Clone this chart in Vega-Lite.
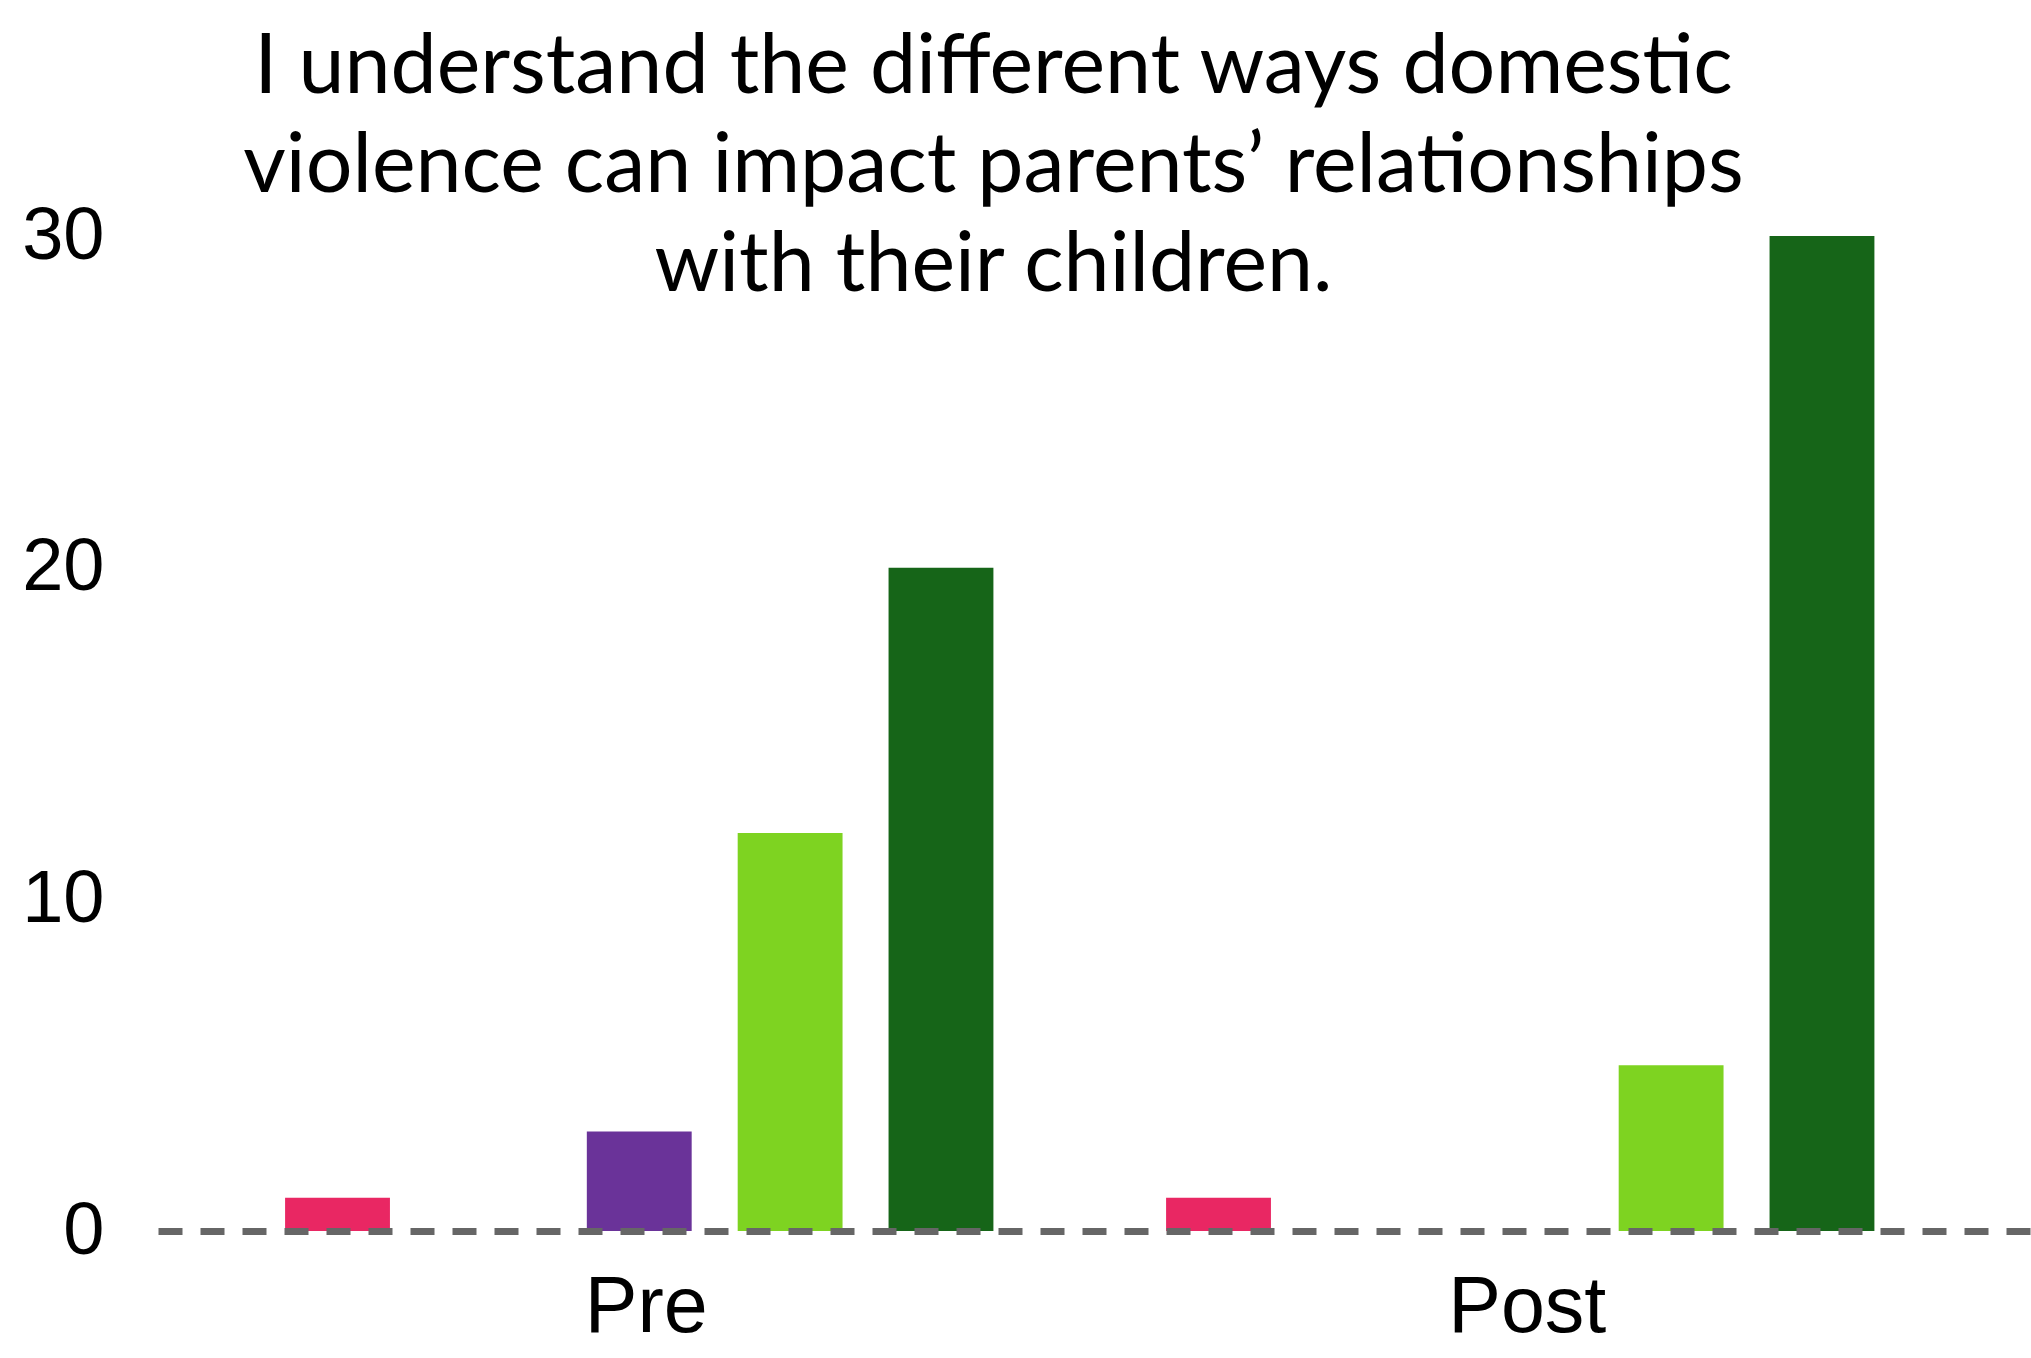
{
  "$schema": "https://vega.github.io/schema/vega-lite/v6.json",
  "width": 1873,
  "height": 995,
  "autosize": {"type": "none"},
  "padding": {"left": 158, "top": 236, "right": 0, "bottom": 127},
  "background": "white",
  "title": {
    "text": ["I understand the different ways domestic", "violence can impact parents’ relationships", "with their children."],
    "font": "Lato",
    "fontSize": 82.5,
    "fontWeight": "normal",
    "lineHeight": 99,
    "color": "black",
    "anchor": "middle",
    "dx": -101,
    "offset": -109
  },
  "data": {
    "values": [
      {"group": "Pre", "response": "Strongly disagree", "count": 1},
      {"group": "Pre", "response": "Disagree", "count": 0},
      {"group": "Pre", "response": "Neutral", "count": 3},
      {"group": "Pre", "response": "Agree", "count": 12},
      {"group": "Pre", "response": "Strongly agree", "count": 20},
      {"group": "Post", "response": "Strongly disagree", "count": 1},
      {"group": "Post", "response": "Disagree", "count": 0},
      {"group": "Post", "response": "Neutral", "count": 0},
      {"group": "Post", "response": "Agree", "count": 5},
      {"group": "Post", "response": "Strongly agree", "count": 30}
    ]
  },
  "mark": {"type": "bar"},
  "encoding": {
    "x": {
      "field": "group",
      "type": "nominal",
      "sort": ["Pre", "Post"],
      "scale": {"paddingInner": 0.196, "paddingOuter": 0.161, "align": 0.448},
      "axis": {
        "title": null,
        "labelAngle": 0,
        "labelFont": "Liberation Sans",
        "labelFontSize": 79,
        "labelColor": "black",
        "labelPadding": 38,
        "labelOffset": 7,
        "ticks": false,
        "domainColor": "#666666",
        "domainWidth": 7,
        "domainDash": [24, 18],
        "zindex": 1
      }
    },
    "xOffset": {
      "field": "response",
      "type": "nominal",
      "sort": ["Strongly disagree", "Disagree", "Neutral", "Agree", "Strongly agree"],
      "scale": {"paddingInner": 0.305, "paddingOuter": 0}
    },
    "y": {
      "field": "count",
      "type": "quantitative",
      "scale": {"domain": [0, 30], "nice": false},
      "axis": {
        "title": null,
        "values": [0, 10, 20, 30],
        "grid": false,
        "domain": false,
        "ticks": false,
        "labelFont": "Liberation Sans",
        "labelFontSize": 74,
        "labelColor": "black",
        "labelPadding": 54
      }
    },
    "color": {
      "field": "response",
      "type": "nominal",
      "scale": {
        "domain": ["Strongly disagree", "Disagree", "Neutral", "Agree", "Strongly agree"],
        "range": ["#E92763", "#F5A623", "#6A3399", "#7ED321", "#166518"]
      },
      "legend": null
    }
  },
  "config": {"view": {"stroke": null}}
}
